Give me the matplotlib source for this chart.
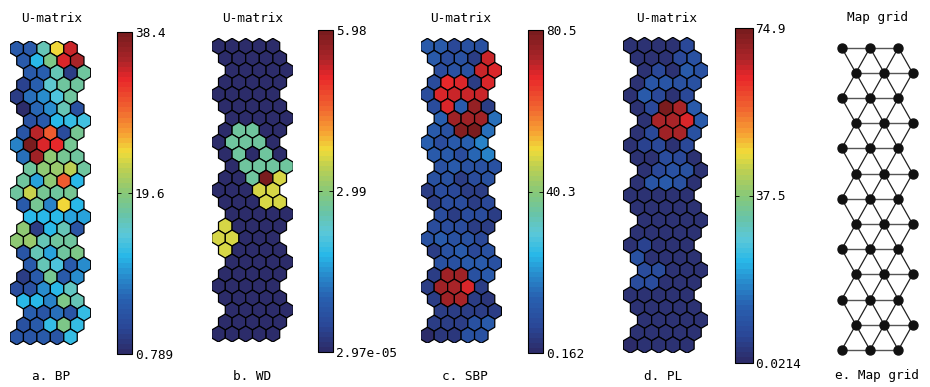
import numpy as np
import matplotlib
matplotlib.use("Agg")
import matplotlib.pyplot as plt
from matplotlib.collections import PolyCollection
from matplotlib.colors import LinearSegmentedColormap, Normalize
from matplotlib.cm import ScalarMappable

# U-matrix values, 25 rows x 5 columns (top row first)
bp_umat = [
    [6.43, 6.43, 16.59, 24.86, 33.89],
    [6.43, 12.07, 18.47, 33.13, 35.39],
    [6.43, 7.18, 16.59, 2.67, 17.71],
    [3.42, 7.18, 15.08, 17.71, 17.71],
    [3.05, 8.31, 10.19, 13.95, 17.34],
    [0.789, 7.56, 10.19, 16.59, 5.30],
    [5.30, 6.43, 12.45, 12.80, 13.60],
    [5.68, 34.64, 30.12, 4.55, 18.09],
    [9.06, 38.4, 33.13, 32.76, 18.09],
    [8.31, 35.77, 19.60, 18.09, 17.34],
    [17.34, 19.60, 20.35, 22.23, 17.34],
    [17.34, 11.30, 19.60, 29.75, 12.45],
    [17.34, 22.60, 18.09, 17.71, 18.09],
    [6.43, 18.09, 9.06, 24.86, 12.45],
    [12.07, 12.07, 12.45, 11.32, 11.32],
    [19.60, 2.67, 12.45, 16.59, 5.68],
    [19.60, 20.35, 16.59, 17.34, 17.71],
    [6.05, 16.59, 11.32, 17.34, 18.84],
    [6.43, 16.59, 13.95, 6.43, 10.19],
    [3.05, 6.43, 18.09, 6.43, 10.19],
    [4.55, 5.30, 9.81, 12.45, 15.83],
    [12.07, 12.07, 9.06, 18.84, 16.59],
    [7.18, 5.68, 8.31, 6.05, 12.82],
    [5.30, 6.43, 12.82, 18.84, 12.82],
    [6.05, 5.68, 6.43, 6.05, 12.82],
]

n0, tq, yg = 2.97e-05, 2.63, 3.59
wd_umat = [[n0] * 5 for _ in range(25)]
wd_umat[7] = [n0, tq, tq, n0, n0]
wd_umat[8] = [n0, tq, tq, tq, n0]
wd_umat[9] = [n0, tq, n0, tq, n0]
wd_umat[10] = [n0, tq, tq, tq, tq]
wd_umat[11] = [n0, n0, tq, 5.98, yg]
wd_umat[12] = [n0, n0, n0, yg, yg]
wd_umat[13] = [n0, n0, n0, yg, yg]
wd_umat[15] = [yg, n0, n0, n0, n0]
wd_umat[16] = [yg, yg, n0, n0, n0]
wd_umat[17] = [yg, n0, n0, n0, n0]

sbp_umat = [
    [12.2, 12.2, 6.6, 9.8, 9.8],
    [12.2, 8.2, 9.8, 4.2, 70.9],
    [8.2, 9.8, 9.8, 70.9, 70.1],
    [8.2, 68.4, 70.1, 5.0, 70.1],
    [8.2, 70.1, 70.9, 70.9, 70.9],
    [8.2, 69.3, 12.2, 76.5, 4.2],
    [13.8, 74.9, 74.9, 74.9, 16.2],
    [12.2, 9.8, 78.1, 80.5, 16.2],
    [13.8, 8.2, 12.2, 13.8, 17.8],
    [12.2, 12.2, 8.2, 14.6, 17.8],
    [9.8, 12.2, 9.8, 9.8, 9.8],
    [9.8, 9.8, 5.0, 8.2, 9.8],
    [5.0, 8.2, 6.6, 5.0, 5.0],
    [5.0, 8.2, 8.2, 5.0, 6.6],
    [8.2, 4.2, 8.2, 8.2, 5.0],
    [8.2, 8.2, 8.2, 5.0, 5.0],
    [9.8, 12.2, 9.8, 9.8, 6.6],
    [5.0, 9.8, 12.2, 6.6, 9.8],
    [9.8, 9.8, 12.2, 12.2, 9.8],
    [5.0, 74.9, 74.9, 9.8, 12.2],
    [4.2, 74.9, 74.1, 69.3, 5.0],
    [5.0, 74.9, 74.1, 5.0, 3.4],
    [5.0, 5.0, 5.0, 5.0, 5.0],
    [5.0, 5.0, 5.0, 9.8, 12.2],
    [0.162, 3.4, 3.4, 9.8, 9.8],
]

pl_umat = [
    [2.0, 2.0, 2.0, 2.0, 6.0],
    [2.0, 2.0, 2.0, 6.0, 9.0],
    [2.0, 6.0, 2.0, 11.2, 9.0],
    [2.0, 9.8, 10.5, 9.0, 9.0],
    [2.0, 11.2, 6.0, 2.0, 6.0],
    [2.0, 6.0, 74.9, 68.9, 11.2],
    [2.0, 68.9, 68.9, 64.4, 11.2],
    [2.0, 6.0, 69.7, 68.9, 9.0],
    [2.0, 5.2, 6.0, 2.0, 6.0],
    [2.0, 2.0, 7.5, 6.0, 2.0],
    [2.0, 6.0, 9.0, 9.0, 2.0],
    [2.0, 9.8, 11.2, 9.0, 2.0],
    [2.0, 2.0, 2.0, 2.0, 2.0],
    [2.0, 2.0, 2.0, 2.0, 2.0],
    [2.0, 2.0, 2.0, 2.0, 2.0],
    [2.0, 2.0, 2.0, 2.0, 2.0],
    [2.0, 5.2, 2.0, 2.0, 2.0],
    [9.0, 2.0, 2.0, 2.0, 2.0],
    [7.5, 7.5, 2.0, 2.0, 2.0],
    [7.5, 7.5, 2.0, 2.0, 2.0],
    [2.0, 2.0, 2.0, 2.0, 2.0],
    [2.0, 2.0, 2.0, 2.0, 2.0],
    [2.0, 2.0, 2.0, 2.0, 2.0],
    [2.0, 2.0, 2.0, 2.0, 2.0],
    [0.0214, 2.0, 2.0, 2.0, 2.0],
]

panel_labels = ["a. BP", "b. WD", "c. SBP", "d. PL"]
grid_rows, grid_cols = 13, 3

W, H = 930, 387
plt.rcParams["font.family"] = ["DejaVu Sans Mono"]
FS = 9.2

cmap = LinearSegmentedColormap.from_list("umat", [
    (0.00, "#2c2c6a"), (0.08, "#2a4898"), (0.165, "#2860b0"),
    (0.245, "#2890d0"), (0.30, "#28b8e8"), (0.37, "#5cc8d8"),
    (0.43, "#68c4a8"), (0.50, "#88c878"), (0.58, "#c0d050"),
    (0.63, "#f0dc3a"), (0.69, "#f7a033"), (0.77, "#f06030"),
    (0.86, "#e8262a"), (0.92, "#a82428"), (1.00, "#7a1c1e"),
], N=64)

fig = plt.figure(figsize=(W / 100, H / 100), dpi=100)


def px_axes(x0, y0, x1, y1):
    return fig.add_axes([x0 / W, 1 - y1 / H, (x1 - x0) / W, (y1 - y0) / H])


def hexagon(cx, cy):
    r = 1 / np.sqrt(3)
    ang = np.radians(90 + 60 * np.arange(6))
    return np.column_stack([cx + r * np.cos(ang), cy + r * np.sin(ang)])


def draw_umat(vals, box, cbox, title_x, label, label_x):
    vals = np.asarray(vals)
    ax = px_axes(*box)
    dy = np.sqrt(3) / 2
    verts = []
    for i in range(vals.shape[0]):
        shift = 0.0 if i % 4 == 0 else (1.0 if i % 4 == 2 else 0.5)
        for j in range(vals.shape[1]):
            verts.append(hexagon(j + shift, -i * dy))
    norm = Normalize(vals.min(), vals.max())
    pc = PolyCollection(verts, array=vals.ravel(), cmap=cmap, norm=norm,
                        edgecolors="black", linewidths=0.9)
    ax.add_collection(pc)
    ax.set_xlim(-0.5, vals.shape[1] + 0.5)
    ax.set_ylim(-(vals.shape[0] - 1) * dy - 0.58, 0.58)
    ax.axis("off")

    cax = px_axes(*cbox)
    cb = fig.colorbar(ScalarMappable(norm=norm, cmap=cmap), cax=cax)
    lo, hi = vals.min(), vals.max()
    ticks = [lo, (lo + hi) / 2, hi]
    cb.set_ticks(ticks)
    cb.set_ticklabels(["%.3g" % t for t in ticks])
    cax.tick_params(direction="in", length=3, width=0.6, left=True,
                    right=True, labelsize=FS, pad=2)
    cb.outline.set_linewidth(0.8)

    fig.text(title_x / W, 1 - 18 / H, "U-matrix", ha="center", va="center", fontsize=FS)
    fig.text(label_x / W, 1 - 376 / H, label, ha="center", va="center", fontsize=FS)


draw_umat(bp_umat, (10, 40.7, 90.7, 345), (117, 32, 132, 354), 52, panel_labels[0], 51)
draw_umat(wd_umat, (211.7, 38.3, 293.3, 342), (318.3, 30, 333.3, 352.3), 253, panel_labels[1], 252)
draw_umat(sbp_umat, (420.7, 38.3, 501.5, 343.3), (527.7, 30, 543, 353), 461, panel_labels[2], 465)
draw_umat(pl_umat, (623.3, 37.3, 708.3, 353.3), (735, 28.3, 752.5, 362.7), 667, panel_labels[3], 663)

# map grid: hexagonal lattice, every other row shifted by half a unit
ax = px_axes(836.0, 41.9, 918.2, 355.8)
dy = np.sqrt(3) / 2
pts = {}
for r in range(grid_rows):
    for c in range(grid_cols):
        pts[(r, c)] = (c + 0.5 * (r % 2), -r * dy)
for (r, c), (x, y) in pts.items():
    if (r, c + 1) in pts:
        x2, y2 = pts[(r, c + 1)]
        ax.plot([x, x2], [y, y2], color="#555555", lw=1.0, zorder=1)
    for c2 in range(grid_cols):
        if (r + 1, c2) in pts:
            x2, y2 = pts[(r + 1, c2)]
            if abs(x2 - x) == 0.5:
                ax.plot([x, x2], [y, y2], color="#222222", lw=0.9, zorder=1)
xy = np.array(list(pts.values()))
ax.scatter(xy[:, 0], xy[:, 1], s=42, color="#111111", zorder=2)
ax.set_xlim(-0.2, 2.7)
ax.set_ylim(-(grid_rows - 1) * dy - 0.2, 0.2)
ax.axis("off")
fig.text(877 / W, 1 - 17 / H, "Map grid", ha="center", va="center", fontsize=FS)
fig.text(877 / W, 1 - 376 / H, "e. Map grid", ha="center", va="center", fontsize=FS)

fig.savefig("out.png", dpi=100)
